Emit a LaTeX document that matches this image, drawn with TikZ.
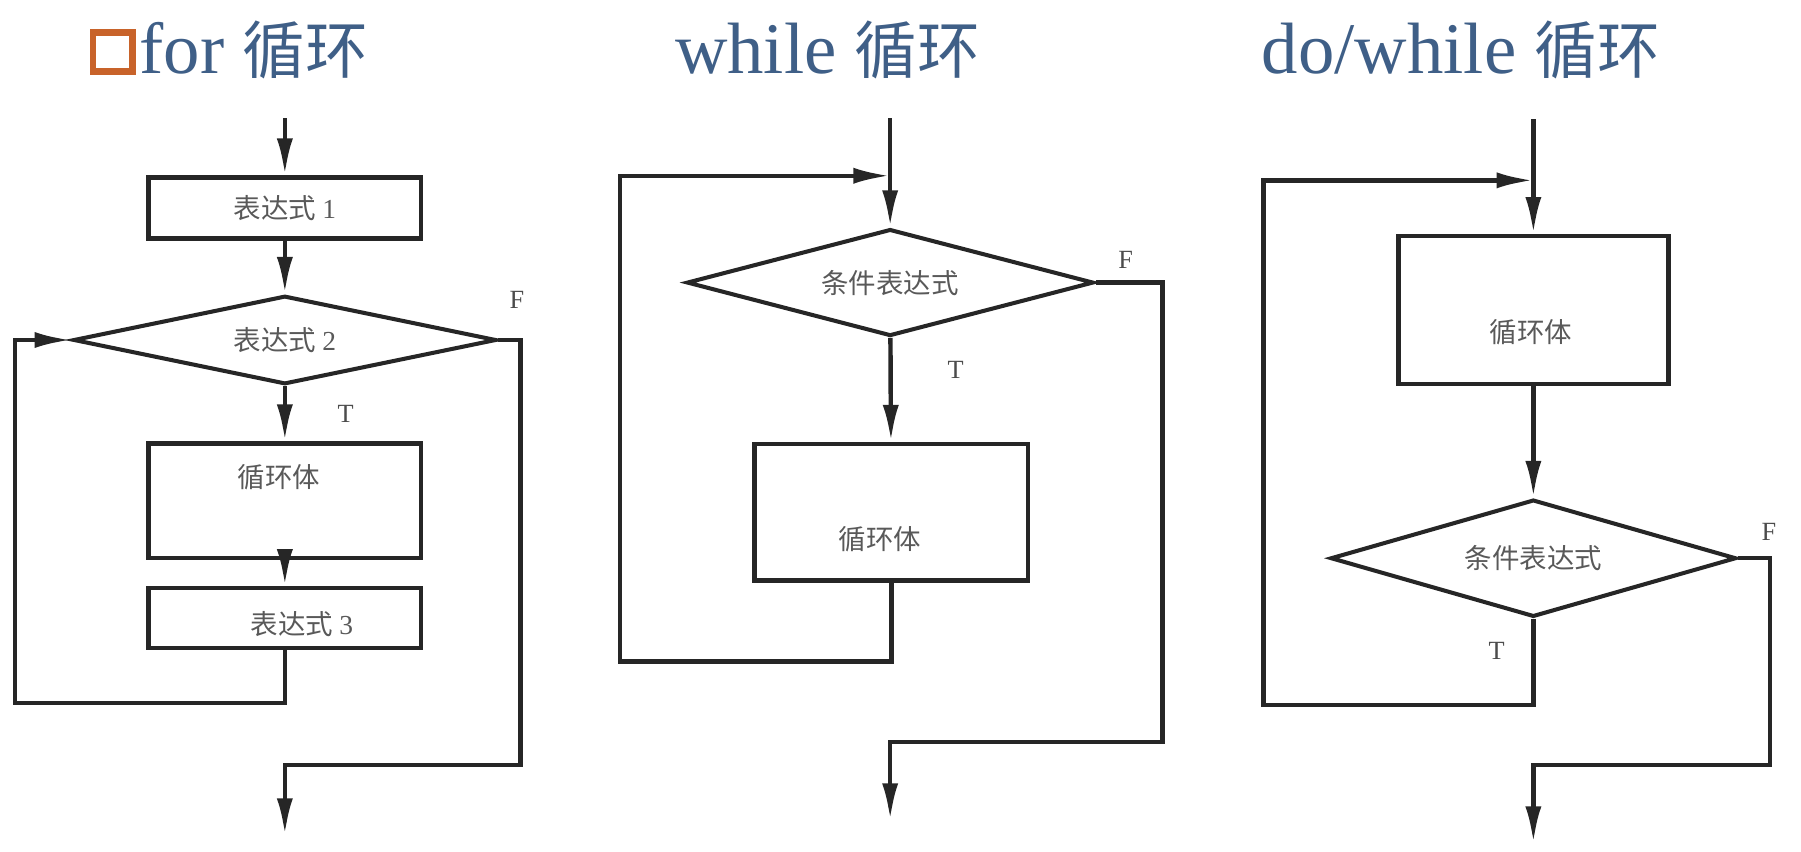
\documentclass[tikz,border=0pt]{standalone}
\usepackage{fontspec}
\setmainfont{Liberation Serif}
\newfontfamily\cjk{Noto Sans CJK SC}
\usetikzlibrary{arrows.meta,shapes.geometric,positioning,calc}
\definecolor{titleblue}{HTML}{3F5F87}
\definecolor{markorange}{HTML}{C8632A}
\newcommand{\looptitle}[1]{{\fontsize{18}{20}\selectfont #1 }{\cjk\fontsize{15.5}{18}\selectfont 循环}}
\tikzset{
    block/.style={
        rectangle,
        draw=black!85,
        line width=1.1pt,
        minimum width=2.37cm,
        inner sep=0pt,
        font=\cjk\fontsize{6.8}{8}\selectfont,
        text=black!65,
    },
    cond/.style={
        diamond,
        aspect=4.5,
        draw=black!85,
        line width=1pt,
        inner sep=0pt,
        font=\cjk\fontsize{6.8}{8}\selectfont,
        text=black!65,
    },
    boxtext/.style={font=\cjk\fontsize{6.8}{8}\selectfont, text=black!65},
    tf/.style={font=\fontsize{6.5}{8}\selectfont, text=black!70},
    title/.style={anchor=base west, text=titleblue, inner sep=0pt},
    flow/.style={draw=black!85, line width=1.1pt},
}

\begin{document}
\begin{tikzpicture}[x=0.01cm, y=-0.01cm, >={Latex[length=3.2mm,width=1.4mm]}]
    \useasboundingbox (0,0) rectangle (1568,741);

    % titles
    \node[draw=markorange, line width=1.7pt, minimum size=0.34cm, inner sep=0pt] (for-mark) at (98,45) {};
    \node[title] (for-title) at (121,64) {\looptitle{for}};
    \node[title] (wh-title) at (587,64) {\looptitle{while}};
    \node[title] (dw-title) at (1098,64) {\looptitle{do/while}};

    % for
    \coordinate (for-in) at (248,103);
    \node[block, minimum height=0.53cm] (for-e1) at (248,181) {表达式 {\rmfamily 1}};
    \node[cond, minimum width=3.68cm, minimum height=0.77cm] (for-e2) at (248,296) {表达式 {\rmfamily 2}};
    \node[block, minimum height=1.0cm] (for-body) at (248,436) {};
    \node[boxtext] (for-body-t) at (243,415) {循环体};
    \node[block, minimum height=0.52cm] (for-e3) at (248,538) {};
    \node[boxtext] (for-e3-t) at (263,543) {表达式 {\rmfamily 3}};
    \coordinate (for-bl) at (13,612);
    \coordinate (for-r) at (453,666);
    \coordinate (for-out) at (248,727);
    \node[tf] (for-f) at (450,261) {F};
    \node[tf] (for-t) at (301,360) {T};
    \draw[flow,->] (for-in) -- (for-e1);
    \draw[flow,->] (for-e1) -- (for-e2);
    \draw[flow,->] (for-e2) -- (for-body);
    \draw[flow,->] (for-body) -- (for-e3);
    \draw[flow,->] (for-e3.south) |- (for-bl) |- (for-e2.west);
    \draw[flow,->] (for-e2.east) -| (for-r) -| (for-out);

    % while
    \coordinate (wh-in) at (775,103);
    \coordinate (wh-j) at (775,153);
    \node[cond, minimum width=3.54cm, minimum height=0.93cm] (wh-c) at (775,246) {条件表达式};
    \node[block, minimum width=2.38cm, minimum height=1.19cm] (wh-body) at (776,446) {};
    \node[boxtext] (wh-body-t) at (766,469) {循环体};
    \coordinate (wh-bl) at (540,576);
    \coordinate (wh-r) at (1012,646);
    \coordinate (wh-out) at (775,714);
    \node[tf] (wh-f) at (980,226) {F};
    \node[tf] (wh-t) at (832,322) {T};
    \draw[flow,->] (wh-in) -- (wh-c);
    \draw[flow,->] (wh-c) -- (wh-body);
    \draw[flow,->] (wh-body.south) |- (wh-bl) |- (wh-j);
    \draw[flow,->] (wh-c.east) -| (wh-r) -| (wh-out);

    % do/while
    \coordinate (dw-in) at (1335,104);
    \coordinate (dw-j) at (1335,157);
    \node[block, minimum width=2.35cm, minimum height=1.29cm] (dw-body) at (1335,270) {};
    \node[boxtext] (dw-body-t) at (1333,289) {循环体};
    \node[cond, minimum width=3.53cm, minimum height=1.02cm] (dw-c) at (1335,486) {条件表达式};
    \coordinate (dw-bl) at (1100,614);
    \coordinate (dw-r) at (1541,666);
    \coordinate (dw-out) at (1335,734);
    \node[tf] (dw-f) at (1540,463) {F};
    \node[tf] (dw-t) at (1303,567) {T};
    \draw[flow,->] (dw-in) -- (dw-body);
    \draw[flow,->] (dw-body) -- (dw-c);
    \draw[flow,->] (dw-c.south) |- (dw-bl) |- (dw-j);
    \draw[flow,->] (dw-c.east) -| (dw-r) -| (dw-out);
\end{tikzpicture}
\end{document}
